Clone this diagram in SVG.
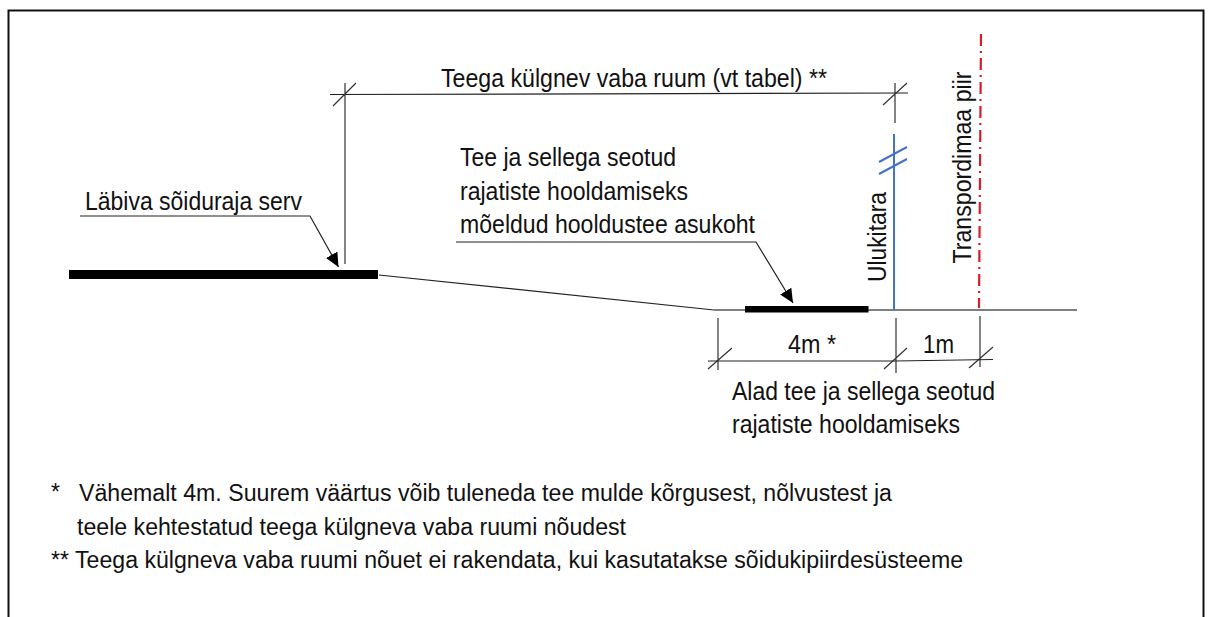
<svg xmlns="http://www.w3.org/2000/svg" width="1213" height="617" viewBox="0 0 1213 617">
<style>
text{font-family:"Liberation Sans",Arial,sans-serif;font-size:25px;fill:#111;lengthAdjust:spacingAndGlyphs}
.n{font-size:23px}
.l{fill:none;stroke:#222;stroke-width:1.2}
.g{fill:none;stroke:#555;stroke-width:1.5}
.t{fill:none;stroke:#333;stroke-width:1.2}
.b{fill:none;stroke:#4472c4;stroke-width:2}
</style>
<defs><marker id="ah" markerUnits="userSpaceOnUse" markerWidth="16" markerHeight="16" refX="14" refY="6.500" orient="auto"><path d="M0 0L14 6.500L0 13Z" fill="#000"/></marker></defs>
<rect width="1213" height="617" fill="#fff"/>
<path id="frame" d="M8.500 617V10.500H1203.500V617" fill="none" stroke="#111" stroke-width="2"/>
<g id="connectors">
<path class="l" d="M330 94.500L908 93"/>
<path class="t" d="M345 83V264M333 106L356 83"/>
<path class="t" d="M883 105L907 83M895 83V123"/>
<path class="l" d="M80 216H310L338.500 267" marker-end="url(#ah)"/>
<path class="l" d="M456 242H756L793 303" marker-end="url(#ah)"/>
<path class="l" d="M379 275L714 310"/>
<path class="g" d="M714 310H1077"/>
<path class="t" d="M718 318V370M708 369L732 348"/>
<path class="t" d="M896 318V373M884 369L907 348"/>
<path class="t" d="M980 316V367M969 368L993 347"/>
<path class="l" d="M708 361H895L993 359.500"/>
</g>
<g id="road-edge"><rect x="69" y="270" width="309" height="9" fill="#000"/><text x="85" y="210" textLength="217" lengthAdjust="spacingAndGlyphs">Läbiva sõiduraja serv</text></g>
<g id="maintenance-road"><rect x="745" y="306" width="123.500" height="6.500" fill="#000"/>
<text x="460" y="166" textLength="216" lengthAdjust="spacingAndGlyphs">Tee ja sellega seotud</text><text x="460" y="199.500" textLength="228" lengthAdjust="spacingAndGlyphs">rajatiste hooldamiseks</text><text x="460" y="233" textLength="295" lengthAdjust="spacingAndGlyphs">mõeldud hooldustee asukoht</text></g>
<g id="clearance-label"><text x="441" y="87" textLength="386" lengthAdjust="spacingAndGlyphs">Teega külgnev vaba ruum (vt tabel) **</text></g>
<g id="fence"><path class="b" d="M894 134V310"/><path class="b" d="M879 162L907 147M879 174L907 159"/>
<text transform="translate(885.500 282) rotate(-90)" textLength="90" lengthAdjust="spacingAndGlyphs">Ulukitara</text></g>
<g id="boundary"><path d="M981 34L979 308" fill="none" stroke="#d0202c" stroke-width="2.200" stroke-dasharray="12 5 2 5"/>
<text transform="translate(971 263.500) rotate(-90)" textLength="192" lengthAdjust="spacingAndGlyphs">Transpordimaa piir</text></g>
<g id="dimensions"><text x="788" y="353" textLength="48" lengthAdjust="spacingAndGlyphs">4m *</text><text x="923" y="353" textLength="31" lengthAdjust="spacingAndGlyphs">1m</text>
<text x="732" y="400" textLength="263" lengthAdjust="spacingAndGlyphs">Alad tee ja sellega seotud</text><text x="732" y="433" textLength="228" lengthAdjust="spacingAndGlyphs">rajatiste hooldamiseks</text></g>
<g id="notes">
<text class="n" x="51" y="500">*</text><text class="n" x="79" y="501" textLength="813" lengthAdjust="spacingAndGlyphs">Vähemalt 4m. Suurem väärtus võib tuleneda tee mulde kõrgusest, nõlvustest ja</text>
<text class="n" x="77" y="535" textLength="549" lengthAdjust="spacingAndGlyphs">teele kehtestatud teega külgneva vaba ruumi nõudest</text>
<text class="n" x="51" y="568" textLength="912" lengthAdjust="spacingAndGlyphs">** Teega külgneva vaba ruumi nõuet ei rakendata, kui kasutatakse sõidukipiirdesüsteeme</text>
</g>
</svg>
